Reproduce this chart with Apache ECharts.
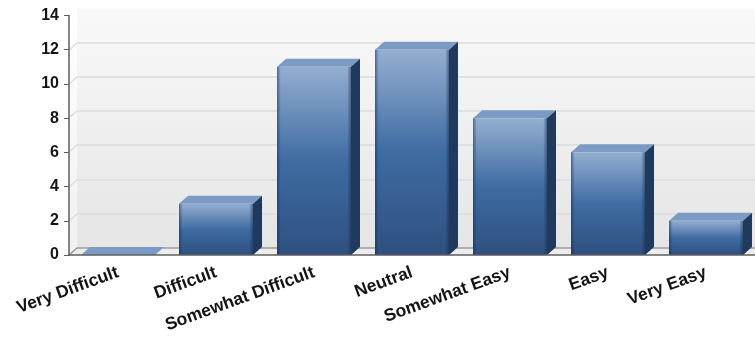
<!DOCTYPE html>
<html>
<head>
<meta charset="utf-8">
<style>html,body{margin:0;padding:0;background:#fff}#chart{width:755px;height:337px}</style>
<script src="https://cdn.jsdelivr.net/npm/echarts@6/dist/echarts.min.js"></script>
</head>
<body>
<div id="chart"></div>
<script>
const categories = ['Very Difficult', 'Difficult', 'Somewhat Difficult', 'Neutral', 'Somewhat Easy', 'Easy', 'Very Easy'];
const responses = [0, 3, 11, 12, 8, 6, 2];
const gridValues = [2, 4, 6, 8, 10, 12, 14];

const DEPTH_X = 8, DEPTH_Y = 7;
const BAR_W = 74, BAR_DX = 9, BAR_DY = 8;
const vGrad = (stops) => ({ type: 'linear', x: 0, y: 0, x2: 0, y2: 1, colorStops: stops });
const hGrad = (stops) => ({ type: 'linear', x: 0, y: 0, x2: 1, y2: 0, colorStops: stops });

// Back wall, left wall, floor and wall gridlines of the 3D plot box
function renderRoom(params, api) {
  const cs = params.coordSys;
  const left = cs.x, right = cs.x + cs.width, top = cs.y, bottom = cs.y + cs.height;
  const children = [
    { type: 'rect', shape: { x: left + DEPTH_X, y: top - DEPTH_Y, width: right - left - DEPTH_X, height: bottom - top },
      style: { fill: vGrad([{ offset: 0, color: '#f9f9f9' }, { offset: 1, color: '#e5e5e5' }]) } },
    { type: 'polygon', shape: { points: [[left, top], [left + DEPTH_X, top - DEPTH_Y], [left + DEPTH_X, bottom - DEPTH_Y], [left, bottom]] },
      style: { fill: vGrad([{ offset: 0, color: '#ffffff' }, { offset: 1, color: '#f1f1f1' }]) } },
    { type: 'polygon', shape: { points: [[left, bottom], [left + DEPTH_X, bottom - DEPTH_Y], [right, bottom - DEPTH_Y], [right, bottom]] },
      style: { fill: '#ececec' } },
    { type: 'polyline', shape: { points: [[left, bottom], [left + DEPTH_X, bottom - DEPTH_Y], [right, bottom - DEPTH_Y]] },
      style: { fill: 'none', stroke: '#9a9a9a', lineWidth: 1.5 } }
  ];
  gridValues.slice(0, -1).forEach((v) => {
    const y = Math.round(api.coord([0, v])[1]);
    children.push({ type: 'polyline', shape: { points: [[left, y], [left + DEPTH_X, y - DEPTH_Y], [right, y - DEPTH_Y]] },
      style: { fill: 'none', stroke: '#dcdcdc', lineWidth: 1.5 } });
  });
  return { type: 'group', silent: true, children };
}

// One extruded bar: front face, shaded edges, top and side faces
function renderBar(params, api) {
  const value = api.value(1);
  const topPt = api.coord([api.value(0), value]);
  const basePt = api.coord([api.value(0), 0]);
  const x0 = topPt[0] - BAR_W / 2, x1 = x0 + BAR_W, y0 = topPt[1], y1 = basePt[1];
  const h = y1 - y0;
  const children = [
    { type: 'polygon', shape: { points: [[x0, y0], [x0 + BAR_DX, y0 - BAR_DY], [x1 + BAR_DX, y0 - BAR_DY], [x1, y0]] },
      style: { fill: '#7b9bc4' } }
  ];
  if (h > 0) {
    children.push(
      { type: 'polygon', shape: { points: [[x1, y0], [x1 + BAR_DX, y0 - BAR_DY], [x1 + BAR_DX, y1 - BAR_DY], [x1, y1]] },
        style: { fill: '#1f3a5c' } },
      { type: 'rect', shape: { x: x0, y: y0, width: BAR_W, height: h },
        style: { fill: vGrad([
          { offset: 0, color: '#94aed0' },
          { offset: 0.5, color: '#3f6ca3' },
          { offset: 1, color: '#2f5080' }
        ]) } },
      { type: 'rect', shape: { x: x0, y: y0, width: BAR_W, height: h },
        style: { fill: hGrad([
          { offset: 0, color: 'rgba(25,45,75,0.55)' },
          { offset: 0.05, color: 'rgba(25,45,75,0)' },
          { offset: 0.95, color: 'rgba(25,45,75,0)' },
          { offset: 1, color: 'rgba(25,45,75,0.55)' }
        ]) } }
    );
  }
  return { type: 'group', children };
}

const chart = echarts.init(document.getElementById('chart'), null, { renderer: 'canvas' });
chart.setOption({
  animation: false,
  grid: { left: 69, right: 0, top: 15.5, height: 239.5, containLabel: false },
  xAxis: {
    type: 'category',
    data: categories,
    z: 5,
    axisLine: { lineStyle: { color: '#5e5e5e', width: 1.5 } },
    axisTick: { alignWithLabel: true, length: 5, lineStyle: { color: '#5e5e5e' } },
    axisLabel: {
      interval: 0, rotate: 20, margin: 17, color: '#141414',
      fontFamily: 'Liberation Sans', fontWeight: 'bold', fontSize: 17.5
    }
  },
  yAxis: {
    type: 'value', min: 0, max: 14, interval: 2,
    z: 5,
    splitLine: { show: false },
    axisLine: { show: true, lineStyle: { color: '#5e5e5e', width: 1.5 } },
    axisTick: { show: true, length: 5, lineStyle: { color: '#5e5e5e' } },
    axisLabel: {
      margin: 10, color: '#141414',
      fontFamily: 'Liberation Sans', fontWeight: 'bold', fontSize: 16
    }
  },
  series: [
    { type: 'custom', silent: true, z: 1, clip: false, renderItem: renderRoom, data: [[0, 0]], encode: { x: 0, y: 1 } },
    { type: 'custom', z: 2, clip: false, renderItem: renderBar,
      data: responses.map((v, i) => [i, v]), encode: { x: 0, y: 1 } }
  ]
});
</script>
</body>
</html>
